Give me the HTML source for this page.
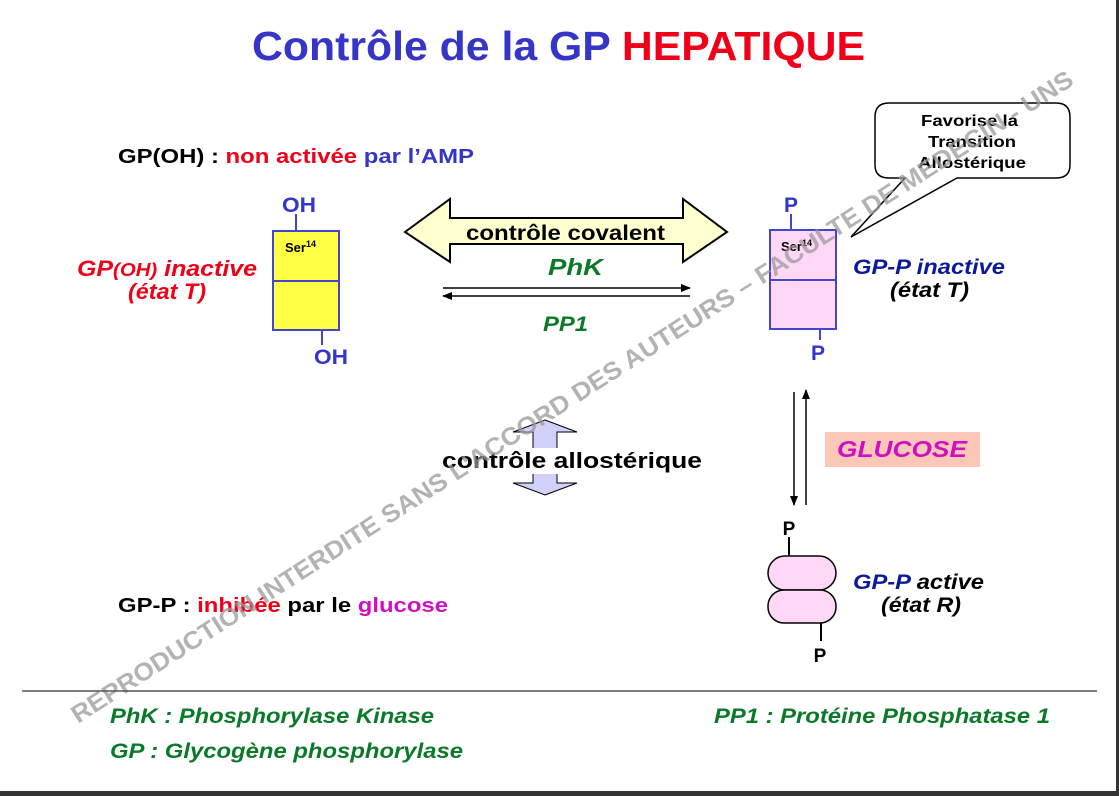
<!DOCTYPE html>
<html><head><meta charset="utf-8"><style>
html,body{margin:0;padding:0;background:#fff;}
svg{display:block;font-family:"Liberation Sans",Arial,sans-serif;font-weight:bold;}
</style></head><body>
<svg width="1119" height="796" viewBox="0 0 1119 796" xmlns="http://www.w3.org/2000/svg">
<rect x="0" y="0" width="1119" height="796" fill="#fff"/>
<rect x="1116" y="0" width="3" height="796" fill="#333"/>
<rect x="0" y="791" width="1119" height="5" fill="#333"/>
<defs>
<marker id="ah" markerWidth="10" markerHeight="8" refX="9" refY="4" orient="auto" markerUnits="userSpaceOnUse"><path d="M0,0 L10,4 L0,8 z" fill="#000"/></marker>
</defs>
<!-- title -->
<text x="252" y="60" font-size="41" textLength="613" lengthAdjust="spacingAndGlyphs"><tspan fill="#3535c8">Contrôle de la GP </tspan><tspan fill="#f00018">HEPATIQUE</tspan></text>

<text x="118" y="163" font-size="20" textLength="356" lengthAdjust="spacingAndGlyphs"><tspan fill="#000">GP(OH) : </tspan><tspan fill="#f00018">non activée </tspan><tspan fill="#3535c8">par l’AMP</tspan></text>

<!-- yellow box -->
<line x1="296" y1="214" x2="296" y2="231" stroke="#4444cc" stroke-width="2"/>
<text x="282" y="212" font-size="21" fill="#3535c8" textLength="34" lengthAdjust="spacingAndGlyphs">OH</text>
<rect x="273" y="231" width="66" height="99" fill="#ffff44" stroke="#4444cc" stroke-width="2"/>
<line x1="273" y1="281" x2="339" y2="281" stroke="#4444cc" stroke-width="2"/>
<text x="285" y="252" font-size="13" fill="#000">Ser<tspan font-size="9" dy="-5">14</tspan></text>
<line x1="322" y1="330" x2="322" y2="345" stroke="#4444cc" stroke-width="2"/>
<text x="314" y="364" font-size="21" fill="#3535c8" textLength="34" lengthAdjust="spacingAndGlyphs">OH</text>
<text x="77" y="276" font-size="22" font-style="italic" fill="#f00018" textLength="180" lengthAdjust="spacingAndGlyphs">GP<tspan font-size="18">(OH)</tspan> inactive</text>
<text x="128" y="299" font-size="22" font-style="italic" fill="#f00018" textLength="78" lengthAdjust="spacingAndGlyphs">(état T)</text>

<!-- covalent arrow -->
<path d="M405,232 L450,199 L450,218 L683,218 L683,199 L727,232 L683,262 L683,244 L450,244 L450,262 Z" fill="#ffffd0" stroke="#000" stroke-width="2"/>
<text x="466" y="240" font-size="21" fill="#000" textLength="199" lengthAdjust="spacingAndGlyphs">contrôle covalent</text>
<text x="548" y="275" font-size="23" font-style="italic" fill="#0a7a28" textLength="55" lengthAdjust="spacingAndGlyphs">PhK</text>
<line x1="443" y1="288" x2="690" y2="288" stroke="#000" stroke-width="1.5" marker-end="url(#ah)"/>
<line x1="690" y1="296" x2="443" y2="296" stroke="#000" stroke-width="1.5" marker-end="url(#ah)"/>
<text x="543" y="331" font-size="21" font-style="italic" fill="#0a7a28" textLength="45" lengthAdjust="spacingAndGlyphs">PP1</text>

<!-- pink box -->
<text x="791" y="212" text-anchor="middle" font-size="21" fill="#3535c8">P</text>
<line x1="791" y1="214" x2="791" y2="230" stroke="#4444cc" stroke-width="2"/>
<rect x="770" y="230" width="66" height="99" fill="#ffd8f8" stroke="#4444cc" stroke-width="2"/>
<line x1="770" y1="280" x2="836" y2="280" stroke="#4444cc" stroke-width="2"/>
<text x="781" y="251" font-size="13" fill="#000">Ser<tspan font-size="9" dy="-5">14</tspan></text>
<line x1="820" y1="329" x2="820" y2="340" stroke="#4444cc" stroke-width="2"/>
<text x="818" y="360" text-anchor="middle" font-size="21" fill="#3535c8">P</text>
<text x="853" y="274" font-size="21" font-style="italic" fill="#0a1a9a" textLength="152" lengthAdjust="spacingAndGlyphs">GP-P inactive</text>
<text x="890" y="297" font-size="21" font-style="italic" fill="#000" textLength="79" lengthAdjust="spacingAndGlyphs">(état T)</text>

<!-- callout -->
<path d="M889,103 L1056,103 Q1070,103 1070,117 L1070,165 Q1070,178 1056,178 L957,178 L851,237 L905,178 L889,178 Q875,178 875,165 L875,117 Q875,103 889,103 Z" fill="#fff" stroke="#000" stroke-width="1.5"/>
<text x="921" y="126" font-size="16" fill="#000" textLength="97" lengthAdjust="spacingAndGlyphs">Favorise la</text>
<text x="928" y="147" font-size="16" fill="#000" textLength="88" lengthAdjust="spacingAndGlyphs">Transition</text>
<text x="918" y="168" font-size="16" fill="#000" textLength="108" lengthAdjust="spacingAndGlyphs">Allostérique</text>

<!-- vertical arrows -->
<line x1="794" y1="392" x2="794" y2="505" stroke="#000" stroke-width="1.5" marker-end="url(#ah)"/>
<line x1="806" y1="505" x2="806" y2="390" stroke="#000" stroke-width="1.5" marker-end="url(#ah)"/>
<rect x="825" y="432" width="155" height="35" fill="#fbc8b8"/>
<text x="837" y="457" font-size="23" font-style="italic" fill="#d010c0" textLength="130" lengthAdjust="spacingAndGlyphs">GLUCOSE</text>

<!-- capsules -->
<text x="789" y="535" text-anchor="middle" font-size="19" fill="#000">P</text>
<line x1="789" y1="537" x2="789" y2="556" stroke="#000" stroke-width="2"/>
<rect x="768" y="556" width="68" height="34" rx="17" fill="#ffd8f8" stroke="#000" stroke-width="1.5"/>
<rect x="768" y="590" width="68" height="33" rx="16" fill="#ffd8f8" stroke="#000" stroke-width="1.5"/>
<line x1="821" y1="623" x2="821" y2="641" stroke="#000" stroke-width="2"/>
<text x="820" y="662" text-anchor="middle" font-size="19" fill="#000">P</text>
<text x="853" y="589" font-size="21" font-style="italic" textLength="131" lengthAdjust="spacingAndGlyphs"><tspan fill="#0a1a9a">GP-P</tspan><tspan fill="#000"> active</tspan></text>
<text x="881" y="612" font-size="21" font-style="italic" fill="#000" textLength="80" lengthAdjust="spacingAndGlyphs">(état R)</text>

<!-- allosteric arrow -->
<path d="M545,420 L577,432 L557,432 L557,450 L533,450 L533,432 L513,432 Z" fill="#d0d0f8" stroke="#000" stroke-width="1"/>
<path d="M545,495 L577,483 L557,483 L557,470 L533,470 L533,483 L513,483 Z" fill="#d0d0f8" stroke="#000" stroke-width="1"/>
<rect x="440" y="448" width="264" height="26" fill="#fff"/>
<text x="442" y="468" font-size="22" fill="#000" textLength="260" lengthAdjust="spacingAndGlyphs">contrôle allostérique</text>

<text x="118" y="612" font-size="20" textLength="330" lengthAdjust="spacingAndGlyphs"><tspan fill="#000">GP-P : </tspan><tspan fill="#f00018">inhibée </tspan><tspan fill="#000">par le </tspan><tspan fill="#d010c0">glucose</tspan></text>

<!-- watermark -->
<text x="0" y="0" transform="translate(78,724) rotate(-32.7)" font-size="25" fill="#999" fill-opacity="0.75" textLength="1185" lengthAdjust="spacingAndGlyphs">REPRODUCTION INTERDITE SANS L'ACCORD DES AUTEURS – FACULTE DE MEDECIN - UNS</text>

<!-- footer -->
<line x1="22" y1="691" x2="1097" y2="691" stroke="#555" stroke-width="1.5"/>
<text x="110" y="723" font-size="21" font-style="italic" fill="#0a7a28" textLength="324" lengthAdjust="spacingAndGlyphs">PhK : Phosphorylase Kinase</text>
<text x="110" y="758" font-size="21" font-style="italic" fill="#0a7a28" textLength="353" lengthAdjust="spacingAndGlyphs">GP : Glycogène phosphorylase</text>
<text x="714" y="723" font-size="21" font-style="italic" fill="#0a7a28" textLength="336" lengthAdjust="spacingAndGlyphs">PP1 : Protéine Phosphatase 1</text>
</svg>
</body></html>
